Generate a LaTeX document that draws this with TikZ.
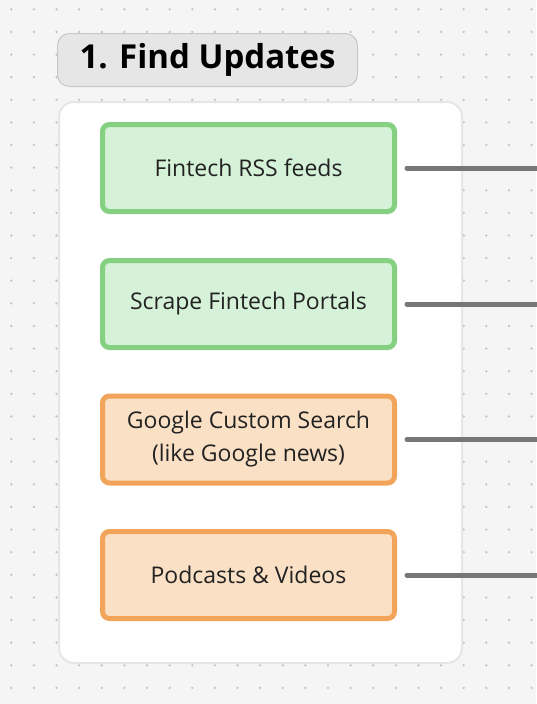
\documentclass[tikz,border=0pt]{standalone}
\usepackage{fontspec}
\setmainfont{Open Sans}
\definecolor{bggray}{HTML}{F5F5F5}
\definecolor{dotgray}{HTML}{C4C4C4}
\definecolor{titlefill}{HTML}{E6E6E6}
\definecolor{titleline}{HTML}{C8C8C8}
\definecolor{panelline}{HTML}{E6E6E6}
\definecolor{greenfill}{HTML}{D5F2D8}
\definecolor{greenline}{HTML}{86D181}
\definecolor{orangefill}{HTML}{FAE0C4}
\definecolor{orangeline}{HTML}{F2A55A}
\definecolor{linkgray}{HTML}{777777}
\definecolor{textgray}{HTML}{222222}
\tikzset{
  source/.style={rounded corners=7pt, line width=5pt, minimum width=292pt,
    minimum height=87pt, align=center, text=textgray,
    font=\fontsize{23pt}{33pt}\selectfont},
  greensource/.style={source, draw=greenline, fill=greenfill},
  orangesource/.style={source, draw=orangeline, fill=orangefill},
  link/.style={linkgray, line width=5pt, line cap=round}
}
\begin{document}
\begin{tikzpicture}[x=1pt, y=-1pt]
    \useasboundingbox (0,0) rectangle (536,704);
    % Hintergrund
    \fill[bggray] (0,0) rectangle (536,704);
    \foreach \i in {0,...,23}
      \foreach \j in {0,...,30}
        \fill[dotgray] (11.3+22.62*\i, 9.3+22.62*\j) circle (1.3pt);

    % Titel
    \node[draw=titleline, fill=titlefill, rounded corners=12pt, line width=1pt,
      minimum width=300pt, minimum height=53pt,
      font=\bfseries\fontsize{33pt}{40pt}\selectfont] (title) at (207.5,60) {1. Find Updates};

    % Rahmen
    \node[draw=panelline, fill=white, rounded corners=15pt, line width=2pt,
      minimum width=403pt, minimum height=561pt] (panel) at (260.5,382.5) {};

    % Quellen
    \node[greensource] (feeds) at (248.5,168) {Fintech RSS feeds};
    \node[greensource] (portals) at (248.5,304) {Scrape Fintech Portals};
    \node[orangesource] (search) at (248.5,439.5) {Google Custom Search\\(like Google news)};
    \node[orangesource] (podcasts) at (248.5,575) {Podcasts \& Videos};

    % Verbindungen
    \coordinate (feedsout) at (540,168);
    \coordinate (portalsout) at (540,304);
    \coordinate (searchout) at (540,439.5);
    \coordinate (podcastsout) at (540,575);
    \draw[link] ([xshift=10pt]feeds.east) -- (feedsout);
    \draw[link] ([xshift=10pt]portals.east) -- (portalsout);
    \draw[link] ([xshift=10pt]search.east) -- (searchout);
    \draw[link] ([xshift=10pt]podcasts.east) -- (podcastsout);
\end{tikzpicture}
\end{document}
